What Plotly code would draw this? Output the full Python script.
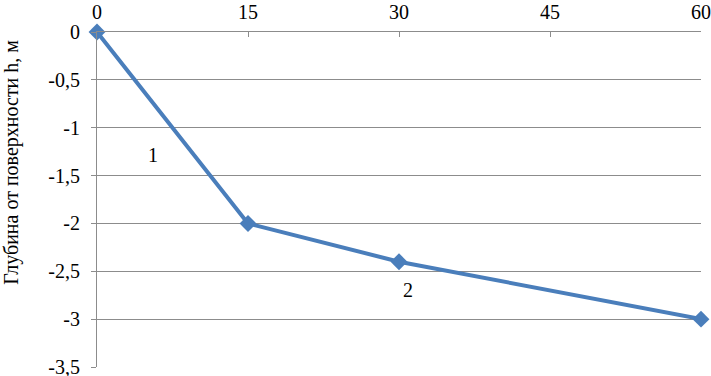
import plotly.graph_objects as go

x_vals = [0, 15, 30, 60]
y_vals = [0, -2, -2.4, -3]
x_ticks = [0, 15, 30, 45, 60]
x_tick_labels = ["0", "15", "30", "45", "60"]
y_ticks = [0, -0.5, -1, -1.5, -2, -2.5, -3, -3.5]
y_tick_labels = ["0", "-0,5", "-1", "-1,5", "-2", "-2,5", "-3", "-3,5"]
y_title = "Глубина от поверхности h, м"
seg_labels = ["1", "2"]
seg_label_x = [5.6, 30.9]
seg_label_y = [-1.285, -2.7]

font = "Liberation Serif"
grid = "#8c8c8c"

fig = go.Figure()
fig.add_trace(go.Scatter(
    x=x_vals, y=y_vals, mode="lines+markers",
    line=dict(color="#4a7ebb", width=4),
    marker=dict(symbol="diamond", size=13, color="#4a7ebb"),
    cliponaxis=False, showlegend=False, hoverinfo="skip",
))
for t, xx, yy in zip(seg_labels, seg_label_x, seg_label_y):
    fig.add_annotation(x=xx, y=yy, text=t, showarrow=False,
                       font=dict(family=font, size=20, color="black"))
fig.add_annotation(xref="paper", yref="paper", x=-0.141, y=0.612, text=y_title,
                   textangle=-90, showarrow=False, xanchor="center", yanchor="middle",
                   font=dict(family=font, size=20, color="black"))

fig.update_layout(
    width=711, height=376,
    margin=dict(l=97, r=10, t=32, b=9, autoexpand=False),
    paper_bgcolor="white", plot_bgcolor="white",
    font=dict(family=font, size=20, color="black"),
    xaxis=dict(side="top", range=[0, 60], tickvals=x_ticks, ticktext=x_tick_labels,
               showgrid=False, zeroline=False, showline=True, linecolor=grid, linewidth=1,
               ticks="inside", ticklen=5, tickcolor=grid, ticklabelstandoff=4,
               tickfont=dict(family=font, size=20, color="black"),
               ticklabeloverflow="allow", automargin=False),
    yaxis=dict(range=[-3.5, 0], tickvals=y_ticks, ticktext=y_tick_labels,
               showgrid=True, gridcolor=grid, gridwidth=1, zeroline=False,
               showline=True, linecolor=grid, linewidth=1,
               ticks="outside", ticklen=5, tickcolor=grid, ticklabelstandoff=7,
               tickfont=dict(family=font, size=20, color="black"),
               ticklabeloverflow="allow", automargin=False),
)
fig.write_html("out.html", config={"displayModeBar": False},
               post_script="document.body.style.margin='0';")
